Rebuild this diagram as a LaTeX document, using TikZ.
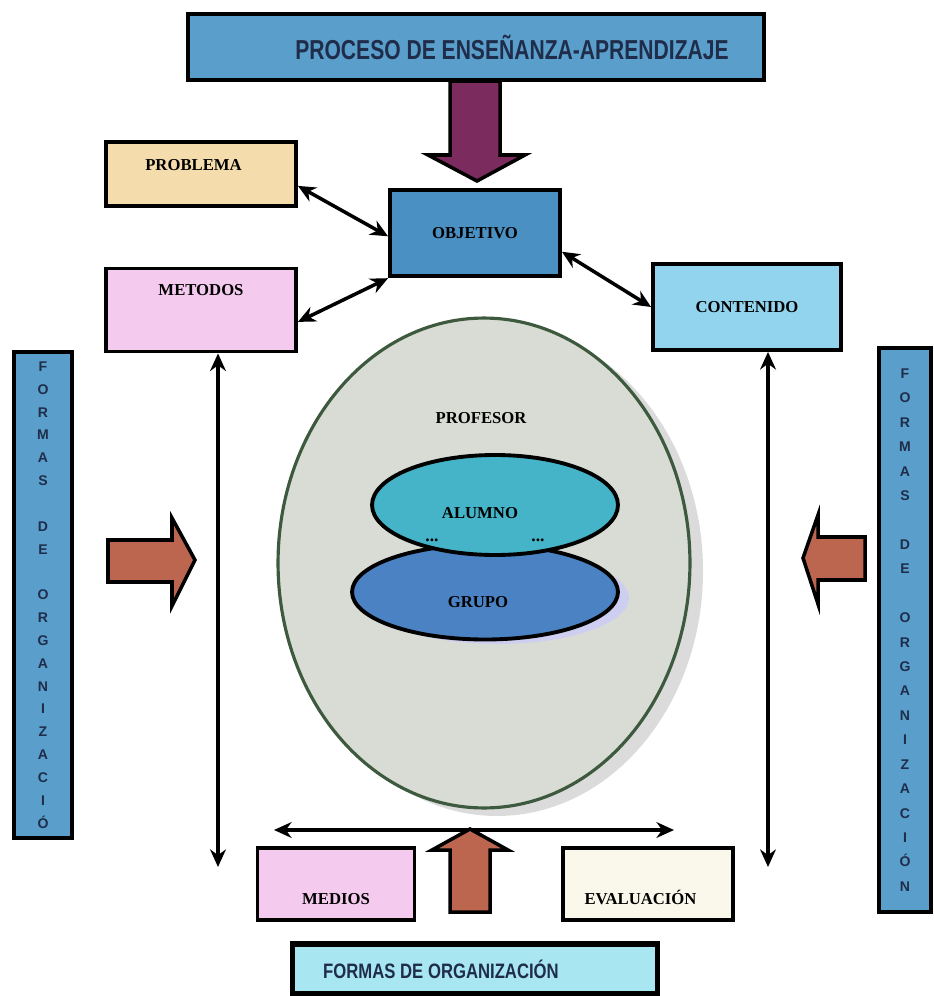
\documentclass[tikz,border=0pt]{standalone}
\usepackage{fontspec}
\setmainfont{Liberation Serif}
\setsansfont{Liberation Sans}
\usepackage{graphicx}
\usetikzlibrary{arrows.meta,shapes.geometric,positioning,calc}

\definecolor{procblue}{HTML}{5A9FCB}
\definecolor{objblue}{HTML}{4B90C3}
\definecolor{peachbox}{HTML}{F5DCAD}
\definecolor{pinkbox}{HTML}{F4CAEE}
\definecolor{cyanbox}{HTML}{92D4EE}
\definecolor{ivorybox}{HTML}{FAF8EA}
\definecolor{formcyan}{HTML}{A8E7F1}
\definecolor{plum}{HTML}{7B2B5E}
\definecolor{brick}{HTML}{BC6650}
\definecolor{aulagray}{HTML}{D9DCD4}
\definecolor{aulaline}{HTML}{3E5A3E}
\definecolor{alumteal}{HTML}{45B3C8}
\definecolor{grupblue}{HTML}{4A82C3}
\definecolor{navytext}{HTML}{1F2D4A}

\tikzset{
  box/.style={draw=black, line width=2.2pt, rectangle, inner sep=0pt,
    font=\fontsize{9.5}{11}\selectfont\bfseries},
  dbl/.style={{Stealth[length=10pt,width=9pt]}-{Stealth[length=10pt,width=9pt]}, line width=2pt},
  bigarrow/.style={draw=black, line width=2pt, line join=miter},
  bar/.style={draw=black, line width=2.2pt, fill=procblue, inner sep=0pt,
    align=center, text=navytext, font=\sffamily\bfseries\fontsize{8}{13}\selectfont},
  blob/.style={ellipse, draw=black, line width=2.2pt, inner sep=0pt,
    font=\fontsize{9.5}{11}\selectfont\bfseries}
}

\begin{document}
\begin{tikzpicture}[x=0.02cm, y=-0.02cm]
        % Page frame
        \useasboundingbox (0,0) rectangle (933,996);

        % Title box and arrow down
        \node[box, fill=procblue, minimum width=11.52cm, minimum height=1.32cm,
              text=navytext, font=\sffamily\bfseries\fontsize{12}{14}\selectfont]
              (proceso) at (476,47) {\hspace*{1.44cm}\scalebox{1}[1.3]{PROCESO DE ENSEÑANZA-APRENDIZAJE}};
        \draw[bigarrow, fill=plum] (450,81) -- (500,81) -- (500,155) -- (525,155)
              -- (477,181) -- (428,155) -- (450,155) -- cycle;

        % Upper boxes
        \node[box, fill=objblue, minimum width=3.4cm, minimum height=1.72cm,
              text depth=0pt, yshift=-3pt] (objetivo) at (475,228) {OBJETIVO};
        \node[box, fill=peachbox, minimum width=3.8cm, minimum height=1.28cm,
              text depth=0.36cm] (problema) at (201,174) {\hspace*{-0.3cm}PROBLEMA};
        \node[box, fill=pinkbox, minimum width=3.8cm, minimum height=1.66cm,
              text depth=0.8cm] (metodos) at (201,310) {METODOS};
        \node[box, fill=cyanbox, minimum width=3.76cm, minimum height=1.72cm] (contenido) at (747,307) {CONTENIDO};

        % Links to the objective
        \draw[dbl] (problema.-7) -- (objetivo.182);
        \draw[dbl] (metodos.-7) -- (objetivo.south west);
        \draw[dbl] (objetivo.-12) -- (contenido.west);

        % Side bars
        \node[bar, minimum width=1.16cm, minimum height=9.72cm] (formasizq) at (43,595)
              {F\\O\\R\\M\\A\\S\\\mbox{}\\D\\E\\\mbox{}\\O\\R\\G\\A\\N\\I\\Z\\A\\C\\I\\Ó};
        \node[bar, minimum width=1.04cm, minimum height=11.28cm,
              font=\sffamily\bfseries\fontsize{8}{13.9}\selectfont] (formasder) at (905,630)
              {F\\O\\R\\M\\A\\S\\\mbox{}\\D\\E\\\mbox{}\\O\\R\\G\\A\\N\\I\\Z\\A\\C\\I\\Ó\\N};

        % Side arrows
        \draw[bigarrow, fill=brick] (108,540) -- (172,540) -- (172,518) -- (195,560)
              -- (172,606) -- (172,582) -- (108,582) -- cycle;
        \draw[bigarrow, fill=brick] (865,537) -- (818,537) -- (818,515) -- (803,558)
              -- (818,604) -- (818,580) -- (865,580) -- cycle;

        % Long vertical arrows
        \coordinate (lbot) at (218,867);
        \coordinate (rbot) at (768,867);
        \draw[dbl] (metodos.south -| lbot) -- (lbot);
        \draw[dbl] (contenido.south -| rbot) -- (rbot);

        % Central ellipse
        \fill[gray!28] (497,571) ellipse [x radius=206, y radius=245];
        \node[ellipse, draw=aulaline, line width=1.8pt, fill=aulagray,
              minimum width=8.24cm, minimum height=9.8cm] (aula) at (484,563) {};
        \node[font=\fontsize{9.5}{11}\selectfont\bfseries] (profesor) at (481,418) {PROFESOR};
        \fill[gray!45!blue!25] (497,598) ellipse [x radius=132, y radius=46];
        \node[blob, fill=grupblue, minimum width=5.32cm, minimum height=1.9cm] (grupo) at (485,592) {};
        \node[font=\fontsize{9.5}{11}\selectfont\bfseries] (grupotxt) at (478,602) {GRUPO};
        \node[blob, fill=alumteal, minimum width=4.92cm, minimum height=2.0cm] (alumno) at (495,505) {};
        \node[font=\fontsize{9.5}{11}\selectfont\bfseries] (alumnotxt) at (480,513) {ALUMNO};
        \node[font=\bfseries] (puntosa) at (432,540) {...};
        \node[font=\bfseries] (puntosb) at (538,540) {...};

        % Bottom row
        \coordinate (hleft) at (274,830);
        \coordinate (hright) at (674,830);
        \draw[dbl] (hleft) -- (hright);
        \draw[bigarrow, fill=brick] (450,912) -- (450,850) -- (432,850) -- (470,829)
              -- (508,850) -- (490,850) -- (490,912) -- cycle;
        \node[box, fill=pinkbox, minimum width=3.14cm, minimum height=1.44cm,
              text height=0.82cm] (medios) at (336,884) {MEDIOS};
        \node[box, fill=ivorybox, minimum width=3.4cm, minimum height=1.44cm,
              text height=0.82cm] (evaluacion) at (648,884) {\hspace*{-0.3cm}EVALUACIÓN};
        \node[box, fill=formcyan, line width=3pt, minimum width=7.3cm, minimum height=1.0cm,
              text=navytext, font=\sffamily\bfseries\fontsize{9.5}{11}\selectfont]
              (formasabajo) at (475,969) {\scalebox{1}[1.25]{FORMAS DE ORGANIZACIÓN}\hspace*{1.36cm}};
\end{tikzpicture}
\end{document}
